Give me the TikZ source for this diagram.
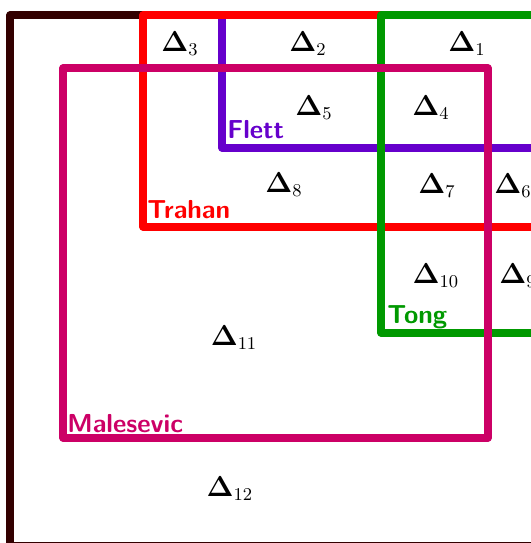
\documentclass[tikz,border=0pt]{standalone}
\usepackage{amsmath}
\definecolor{cdark}{RGB}{51,0,0}
\definecolor{cred}{RGB}{255,0,0}
\definecolor{cpurple}{RGB}{102,0,204}
\definecolor{cgreen}{RGB}{0,153,0}
\definecolor{cmag}{RGB}{204,0,102}
\begin{document}
\begin{tikzpicture}[x={(0.5pt,0)},y={(0,-0.5pt)},
  setline/.style={line width=3.6pt,line join=round},
  dlab/.style={inner sep=0pt,anchor=base,font=\fontsize{13.3}{15}\selectfont},
  nlab/.style={inner sep=0pt,anchor=base west,font=\fontsize{13}{15}\selectfont\sffamily\bfseries}]
\useasboundingbox (0,0) rectangle (531,543);
\clip (0,0) rectangle (531,543);
\draw[setline,cdark] (10,15) rectangle (620,546);
\draw[setline,cpurple] (222,15) rectangle (620,148);
\draw[setline,cred] (143,15) rectangle (620,227);
\draw[setline,cgreen] (381,15) rectangle (620,333);
\draw[setline,cmag] (63,68) rectangle (488,438);
\node[dlab] (d1) at (467,51) {$\mathbf{\Delta}_{1}$};
\node[dlab] (d2) at (308,51) {$\mathbf{\Delta}_{2}$};
\node[dlab] (d3) at (180,51) {$\mathbf{\Delta}_{3}$};
\node[dlab] (d4) at (431,115) {$\mathbf{\Delta}_{4}$};
\node[dlab] (d5) at (314,115) {$\mathbf{\Delta}_{5}$};
\node[dlab] (d6) at (513,193) {$\mathbf{\Delta}_{6}$};
\node[dlab] (d7) at (437,193) {$\mathbf{\Delta}_{7}$};
\node[dlab] (d8) at (284,192) {$\mathbf{\Delta}_{8}$};
\node[dlab] (d9) at (518,283) {$\mathbf{\Delta}_{9}$};
\node[dlab] (d10) at (436,283) {$\mathbf{\Delta}_{10}$};
\node[dlab] (d11) at (234,345) {$\mathbf{\Delta}_{11}$};
\node[dlab] (d12) at (230,496) {$\mathbf{\Delta}_{12}$};
\node[nlab,cpurple] (flett) at (227,138) {Flett};
\node[nlab,cred] (trahan) at (147,218) {Trahan};
\node[nlab,cgreen] (tong) at (387,323) {Tong};
\node[nlab,cmag] (malesevic) at (67,432) {Malesevic};
\end{tikzpicture}
\end{document}
